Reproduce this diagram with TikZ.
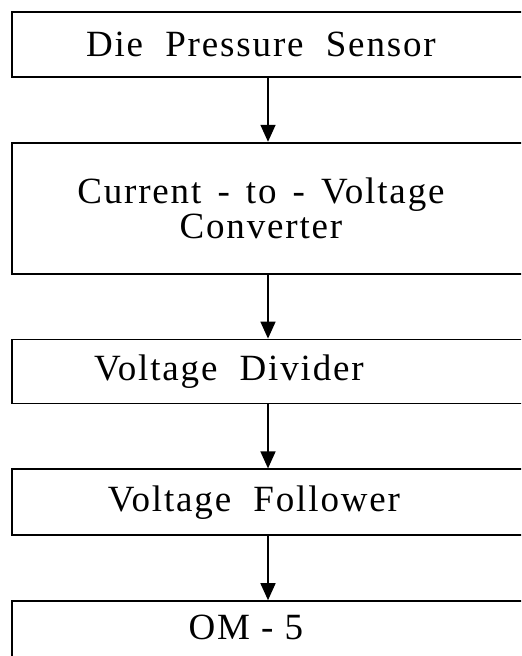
\documentclass[tikz,border=0pt]{standalone}
\usepackage{fontspec}
\setmainfont[LetterSpace=5]{Liberation Serif}
\usepackage{tikz}
\usetikzlibrary{arrows.meta,positioning}
\tikzset{
	box/.style={draw, line width=0.9pt, inner sep=0pt, minimum width=265pt},
	lbl/.style={align=center, inner sep=0pt, font=\fontsize{18.5}{17.5}\selectfont},
	arrow/.style={-{Triangle[width=7.5pt,length=8.5pt]}, line width=0.75pt}
}
\newcommand{\gap}{\ \hspace{2.5pt}}

\begin{document}
\begin{tikzpicture}[x=0.5pt, y=-0.5pt, node distance=32pt]
	\useasboundingbox (0,0) rectangle (521,656);
	\clip (0,0) rectangle (521,656);
	
	% blocks, top to bottom
	\node[box, minimum height=32.5pt, anchor=north west] (b1) at (11,11) {};
	\node[box, minimum height=65.5pt, below=of b1] (b2) {};
	\node[box, minimum height=32pt, below=of b2] (b3) {};
	\node[box, minimum height=33pt, below=of b3] (b4) {};
	\node[box, minimum height=45pt, below=of b4] (b5) {};
	
	\node[lbl, xshift=-8pt] (t1) at (b1) {Die\ \ Pressure\ \ Sensor};
	\node[lbl, xshift=-8pt] (t2) at (b2) {Current\gap-\gap to\gap-\gap Voltage\\Converter};
	\node[lbl, xshift=-24pt] (t3) at (b3) {Voltage\ \ Divider};
	\node[lbl, xshift=-11.5pt] (t4) at (b4) {Voltage\ \ Follower};
	\node[lbl, xshift=-15.5pt] (t5) at (b4.south |- 0,627) {OM - 5};
	
	% signal path
	\coordinate (ax) at (268,0);
	\draw[arrow] (b1.south -| ax) -- (b2.north -| ax);
	\draw[arrow] (b2.south -| ax) -- (b3.north -| ax);
	\draw[arrow] (b3.south -| ax) -- (b4.north -| ax);
	\draw[arrow] (b4.south -| ax) -- (b5.north -| ax);
\end{tikzpicture}
\end{document}
